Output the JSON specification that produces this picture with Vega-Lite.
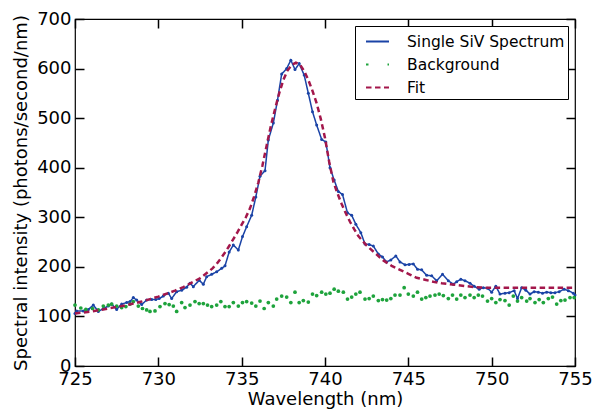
{
  "$schema": "https://vega.github.io/schema/vega-lite/v6.json",
  "width": 500,
  "height": 347,
  "autosize": {"type": "none"},
  "padding": {"left": 75, "top": 19, "right": 30, "bottom": 44},
  "background": "white",
  "config": {
    "font": "DejaVu Sans",
    "view": {"stroke": "black", "strokeWidth": 1.2},
    "axis": {"grid": false, "domain": false, "ticks": true, "tickOpacity": 1, "zindex": 1, "tickColor": "black", "labelColor": "black", "titleColor": "black", "labelFontSize": 18, "titleFontSize": 18, "titleFontWeight": "normal", "labelFont": "DejaVu Sans", "titleFont": "DejaVu Sans", "tickWidth": 1.5, "tickSize": 9, "offset": -9, "labelFlush": false, "labelOverlap": false}
  },
  "data": {"values": [
    {"s":"Single SiV Spectrum","x":725.0,"y":106},{"s":"Single SiV Spectrum","x":725.1,"y":111},{"s":"Single SiV Spectrum","x":725.5,"y":111},{"s":"Single SiV Spectrum","x":725.8,"y":114},{"s":"Single SiV Spectrum","x":726.1,"y":123},{"s":"Single SiV Spectrum","x":726.4,"y":110},{"s":"Single SiV Spectrum","x":726.7,"y":116},{"s":"Single SiV Spectrum","x":727.0,"y":121},{"s":"Single SiV Spectrum","x":727.2,"y":125},{"s":"Single SiV Spectrum","x":727.5,"y":114},{"s":"Single SiV Spectrum","x":727.8,"y":125},{"s":"Single SiV Spectrum","x":728.1,"y":128},{"s":"Single SiV Spectrum","x":728.3,"y":130},{"s":"Single SiV Spectrum","x":728.5,"y":138},{"s":"Single SiV Spectrum","x":728.7,"y":133},{"s":"Single SiV Spectrum","x":729.0,"y":124},{"s":"Single SiV Spectrum","x":729.3,"y":133},{"s":"Single SiV Spectrum","x":729.6,"y":134},{"s":"Single SiV Spectrum","x":729.85,"y":134},{"s":"Single SiV Spectrum","x":730.05,"y":136},{"s":"Single SiV Spectrum","x":730.3,"y":141},{"s":"Single SiV Spectrum","x":730.6,"y":147},{"s":"Single SiV Spectrum","x":730.8,"y":136},{"s":"Single SiV Spectrum","x":731.1,"y":150},{"s":"Single SiV Spectrum","x":731.4,"y":153},{"s":"Single SiV Spectrum","x":731.7,"y":159},{"s":"Single SiV Spectrum","x":731.9,"y":167},{"s":"Single SiV Spectrum","x":732.1,"y":160},{"s":"Single SiV Spectrum","x":732.45,"y":173},{"s":"Single SiV Spectrum","x":732.7,"y":165},{"s":"Single SiV Spectrum","x":732.9,"y":180},{"s":"Single SiV Spectrum","x":733.2,"y":185},{"s":"Single SiV Spectrum","x":733.5,"y":190},{"s":"Single SiV Spectrum","x":733.8,"y":197},{"s":"Single SiV Spectrum","x":734.0,"y":202},{"s":"Single SiV Spectrum","x":734.25,"y":230},{"s":"Single SiV Spectrum","x":734.5,"y":244},{"s":"Single SiV Spectrum","x":734.8,"y":234},{"s":"Single SiV Spectrum","x":735.05,"y":261},{"s":"Single SiV Spectrum","x":735.3,"y":281},{"s":"Single SiV Spectrum","x":735.6,"y":304},{"s":"Single SiV Spectrum","x":735.85,"y":341},{"s":"Single SiV Spectrum","x":736.1,"y":383},{"s":"Single SiV Spectrum","x":736.4,"y":394},{"s":"Single SiV Spectrum","x":736.6,"y":456},{"s":"Single SiV Spectrum","x":736.9,"y":490},{"s":"Single SiV Spectrum","x":737.15,"y":536},{"s":"Single SiV Spectrum","x":737.4,"y":589},{"s":"Single SiV Spectrum","x":737.7,"y":600},{"s":"Single SiV Spectrum","x":737.95,"y":617},{"s":"Single SiV Spectrum","x":738.2,"y":598},{"s":"Single SiV Spectrum","x":738.45,"y":610},{"s":"Single SiV Spectrum","x":738.75,"y":587},{"s":"Single SiV Spectrum","x":739.0,"y":550},{"s":"Single SiV Spectrum","x":739.25,"y":513},{"s":"Single SiV Spectrum","x":739.5,"y":486},{"s":"Single SiV Spectrum","x":739.8,"y":457},{"s":"Single SiV Spectrum","x":740.05,"y":452},{"s":"Single SiV Spectrum","x":740.3,"y":400},{"s":"Single SiV Spectrum","x":740.55,"y":375},{"s":"Single SiV Spectrum","x":740.8,"y":352},{"s":"Single SiV Spectrum","x":741.05,"y":346},{"s":"Single SiV Spectrum","x":741.35,"y":309},{"s":"Single SiV Spectrum","x":741.6,"y":304},{"s":"Single SiV Spectrum","x":741.85,"y":286},{"s":"Single SiV Spectrum","x":742.15,"y":269},{"s":"Single SiV Spectrum","x":742.4,"y":246},{"s":"Single SiV Spectrum","x":742.65,"y":245},{"s":"Single SiV Spectrum","x":742.9,"y":242},{"s":"Single SiV Spectrum","x":743.2,"y":226},{"s":"Single SiV Spectrum","x":743.45,"y":220},{"s":"Single SiV Spectrum","x":743.7,"y":210},{"s":"Single SiV Spectrum","x":743.95,"y":214},{"s":"Single SiV Spectrum","x":744.25,"y":222},{"s":"Single SiV Spectrum","x":744.5,"y":210},{"s":"Single SiV Spectrum","x":744.8,"y":204},{"s":"Single SiV Spectrum","x":745.05,"y":205},{"s":"Single SiV Spectrum","x":745.3,"y":206},{"s":"Single SiV Spectrum","x":745.55,"y":195},{"s":"Single SiV Spectrum","x":745.8,"y":194},{"s":"Single SiV Spectrum","x":746.1,"y":183},{"s":"Single SiV Spectrum","x":746.4,"y":182},{"s":"Single SiV Spectrum","x":746.7,"y":172},{"s":"Single SiV Spectrum","x":747.05,"y":185},{"s":"Single SiV Spectrum","x":747.4,"y":172},{"s":"Single SiV Spectrum","x":747.7,"y":165},{"s":"Single SiV Spectrum","x":747.9,"y":170},{"s":"Single SiV Spectrum","x":748.15,"y":175},{"s":"Single SiV Spectrum","x":748.4,"y":172},{"s":"Single SiV Spectrum","x":748.7,"y":167},{"s":"Single SiV Spectrum","x":748.95,"y":161},{"s":"Single SiV Spectrum","x":749.25,"y":155},{"s":"Single SiV Spectrum","x":749.5,"y":158},{"s":"Single SiV Spectrum","x":749.75,"y":157},{"s":"Single SiV Spectrum","x":750.0,"y":149},{"s":"Single SiV Spectrum","x":750.25,"y":161},{"s":"Single SiV Spectrum","x":750.5,"y":145},{"s":"Single SiV Spectrum","x":750.8,"y":147},{"s":"Single SiV Spectrum","x":751.05,"y":148},{"s":"Single SiV Spectrum","x":751.35,"y":152},{"s":"Single SiV Spectrum","x":751.55,"y":136},{"s":"Single SiV Spectrum","x":751.8,"y":158},{"s":"Single SiV Spectrum","x":752.05,"y":153},{"s":"Single SiV Spectrum","x":752.3,"y":145},{"s":"Single SiV Spectrum","x":752.55,"y":150},{"s":"Single SiV Spectrum","x":752.8,"y":149},{"s":"Single SiV Spectrum","x":753.05,"y":147},{"s":"Single SiV Spectrum","x":753.3,"y":149},{"s":"Single SiV Spectrum","x":753.55,"y":148},{"s":"Single SiV Spectrum","x":753.8,"y":148},{"s":"Single SiV Spectrum","x":754.05,"y":150},{"s":"Single SiV Spectrum","x":754.35,"y":155},{"s":"Single SiV Spectrum","x":754.6,"y":152},{"s":"Single SiV Spectrum","x":754.9,"y":147},{"s":"Single SiV Spectrum","x":755.0,"y":143},
    {"s":"Background","x":725.0,"y":123},{"s":"Background","x":725.35,"y":117},{"s":"Background","x":725.65,"y":114},{"s":"Background","x":726.05,"y":116},{"s":"Background","x":726.4,"y":113},{"s":"Background","x":726.7,"y":121},{"s":"Background","x":727.0,"y":123},{"s":"Background","x":727.2,"y":125},{"s":"Background","x":727.5,"y":121},{"s":"Background","x":727.8,"y":118},{"s":"Background","x":728.05,"y":120},{"s":"Background","x":728.3,"y":125},{"s":"Background","x":728.5,"y":130},{"s":"Background","x":728.8,"y":121},{"s":"Background","x":729.05,"y":116},{"s":"Background","x":729.3,"y":113},{"s":"Background","x":729.5,"y":110},{"s":"Background","x":729.8,"y":111},{"s":"Background","x":730.1,"y":120},{"s":"Background","x":730.4,"y":126},{"s":"Background","x":730.65,"y":124},{"s":"Background","x":730.9,"y":121},{"s":"Background","x":731.1,"y":110},{"s":"Background","x":731.4,"y":128},{"s":"Background","x":731.6,"y":118},{"s":"Background","x":731.9,"y":123},{"s":"Background","x":732.2,"y":130},{"s":"Background","x":732.45,"y":126},{"s":"Background","x":732.7,"y":126},{"s":"Background","x":732.95,"y":123},{"s":"Background","x":733.2,"y":120},{"s":"Background","x":733.5,"y":123},{"s":"Background","x":733.75,"y":130},{"s":"Background","x":734.0,"y":120},{"s":"Background","x":734.25,"y":120},{"s":"Background","x":734.5,"y":128},{"s":"Background","x":734.8,"y":121},{"s":"Background","x":735.05,"y":128},{"s":"Background","x":735.3,"y":130},{"s":"Background","x":735.6,"y":127},{"s":"Background","x":735.85,"y":121},{"s":"Background","x":736.1,"y":131},{"s":"Background","x":736.35,"y":116},{"s":"Background","x":736.6,"y":128},{"s":"Background","x":736.9,"y":121},{"s":"Background","x":737.1,"y":135},{"s":"Background","x":737.4,"y":141},{"s":"Background","x":737.7,"y":139},{"s":"Background","x":737.95,"y":128},{"s":"Background","x":738.2,"y":149},{"s":"Background","x":738.45,"y":128},{"s":"Background","x":738.7,"y":132},{"s":"Background","x":739.0,"y":129},{"s":"Background","x":739.25,"y":145},{"s":"Background","x":739.5,"y":142},{"s":"Background","x":739.8,"y":149},{"s":"Background","x":740.05,"y":145},{"s":"Background","x":740.3,"y":147},{"s":"Background","x":740.55,"y":155},{"s":"Background","x":740.8,"y":151},{"s":"Background","x":741.1,"y":149},{"s":"Background","x":741.35,"y":135},{"s":"Background","x":741.6,"y":139},{"s":"Background","x":741.85,"y":145},{"s":"Background","x":742.1,"y":149},{"s":"Background","x":742.4,"y":135},{"s":"Background","x":742.65,"y":136},{"s":"Background","x":742.9,"y":141},{"s":"Background","x":743.2,"y":132},{"s":"Background","x":743.45,"y":134},{"s":"Background","x":743.7,"y":133},{"s":"Background","x":743.95,"y":136},{"s":"Background","x":744.2,"y":143},{"s":"Background","x":744.5,"y":143},{"s":"Background","x":744.75,"y":158},{"s":"Background","x":745.0,"y":145},{"s":"Background","x":745.3,"y":141},{"s":"Background","x":745.55,"y":149},{"s":"Background","x":745.8,"y":135},{"s":"Background","x":746.05,"y":138},{"s":"Background","x":746.3,"y":141},{"s":"Background","x":746.6,"y":143},{"s":"Background","x":746.85,"y":145},{"s":"Background","x":747.1,"y":142},{"s":"Background","x":747.4,"y":136},{"s":"Background","x":747.65,"y":143},{"s":"Background","x":747.9,"y":135},{"s":"Background","x":748.15,"y":143},{"s":"Background","x":748.4,"y":138},{"s":"Background","x":748.7,"y":143},{"s":"Background","x":748.95,"y":138},{"s":"Background","x":749.2,"y":143},{"s":"Background","x":749.45,"y":141},{"s":"Background","x":749.75,"y":131},{"s":"Background","x":750.0,"y":136},{"s":"Background","x":750.25,"y":128},{"s":"Background","x":750.5,"y":134},{"s":"Background","x":750.8,"y":132},{"s":"Background","x":751.05,"y":123},{"s":"Background","x":751.3,"y":141},{"s":"Background","x":751.55,"y":131},{"s":"Background","x":751.8,"y":138},{"s":"Background","x":752.1,"y":131},{"s":"Background","x":752.3,"y":136},{"s":"Background","x":752.6,"y":128},{"s":"Background","x":752.85,"y":134},{"s":"Background","x":753.1,"y":128},{"s":"Background","x":753.4,"y":136},{"s":"Background","x":753.65,"y":139},{"s":"Background","x":753.9,"y":125},{"s":"Background","x":754.15,"y":132},{"s":"Background","x":754.4,"y":133},{"s":"Background","x":754.7,"y":138},{"s":"Background","x":754.95,"y":138},
    {"s":"Fit","x":725.0,"y":106},{"s":"Fit","x":725.5,"y":108},{"s":"Fit","x":726.0,"y":110},{"s":"Fit","x":726.5,"y":113},{"s":"Fit","x":727.0,"y":116},{"s":"Fit","x":727.5,"y":119},{"s":"Fit","x":728.0,"y":122},{"s":"Fit","x":728.5,"y":126},{"s":"Fit","x":729.0,"y":130},{"s":"Fit","x":729.5,"y":135},{"s":"Fit","x":730.0,"y":140},{"s":"Fit","x":730.5,"y":146},{"s":"Fit","x":731.0,"y":152},{"s":"Fit","x":731.5,"y":159},{"s":"Fit","x":732.0,"y":168},{"s":"Fit","x":732.5,"y":177},{"s":"Fit","x":733.0,"y":190},{"s":"Fit","x":733.25,"y":197},{"s":"Fit","x":733.5,"y":206},{"s":"Fit","x":733.75,"y":217},{"s":"Fit","x":734.0,"y":229},{"s":"Fit","x":734.25,"y":242},{"s":"Fit","x":734.5,"y":256},{"s":"Fit","x":734.75,"y":270},{"s":"Fit","x":735.0,"y":285},{"s":"Fit","x":735.25,"y":300},{"s":"Fit","x":735.5,"y":318},{"s":"Fit","x":735.75,"y":342},{"s":"Fit","x":736.0,"y":370},{"s":"Fit","x":736.25,"y":405},{"s":"Fit","x":736.5,"y":445},{"s":"Fit","x":736.75,"y":484},{"s":"Fit","x":737.0,"y":518},{"s":"Fit","x":737.25,"y":550},{"s":"Fit","x":737.5,"y":577},{"s":"Fit","x":737.75,"y":596},{"s":"Fit","x":738.0,"y":607},{"s":"Fit","x":738.25,"y":612},{"s":"Fit","x":738.5,"y":608},{"s":"Fit","x":738.75,"y":595},{"s":"Fit","x":739.0,"y":577},{"s":"Fit","x":739.25,"y":555},{"s":"Fit","x":739.5,"y":530},{"s":"Fit","x":739.75,"y":498},{"s":"Fit","x":740.0,"y":460},{"s":"Fit","x":740.25,"y":412},{"s":"Fit","x":740.5,"y":372},{"s":"Fit","x":740.75,"y":348},{"s":"Fit","x":741.0,"y":327},{"s":"Fit","x":741.25,"y":308},{"s":"Fit","x":741.5,"y":291},{"s":"Fit","x":741.75,"y":276},{"s":"Fit","x":742.0,"y":262},{"s":"Fit","x":742.5,"y":243},{"s":"Fit","x":743.0,"y":228},{"s":"Fit","x":743.5,"y":213},{"s":"Fit","x":744.0,"y":202},{"s":"Fit","x":744.5,"y":194},{"s":"Fit","x":745.0,"y":186},{"s":"Fit","x":745.5,"y":178},{"s":"Fit","x":746.0,"y":174},{"s":"Fit","x":746.5,"y":170},{"s":"Fit","x":747.0,"y":167},{"s":"Fit","x":747.5,"y":165},{"s":"Fit","x":748.0,"y":163},{"s":"Fit","x":748.5,"y":161},{"s":"Fit","x":749.0,"y":159},{"s":"Fit","x":749.5,"y":158},{"s":"Fit","x":750.0,"y":158},{"s":"Fit","x":751.0,"y":158},{"s":"Fit","x":752.0,"y":158},{"s":"Fit","x":753.0,"y":158},{"s":"Fit","x":754.0,"y":158},{"s":"Fit","x":755.0,"y":158}
  ]},
  "encoding": {
    "color": {"field": "s", "type": "nominal", "scale": {"domain": ["Single SiV Spectrum", "Background", "Fit"], "range": ["#1a43a6", "#1ea33c", "#a3174b"]},
      "legend": {"title": null, "orient": "top-right", "offset": 7, "strokeColor": "black", "fillColor": "white", "padding": 3, "cornerRadius": 0, "labelFontSize": 15.5, "labelFont": "DejaVu Sans", "labelColor": "black", "labelLimit": 300, "symbolType": "stroke", "symbolSize": 529, "symbolStrokeWidth": 2, "symbolOpacity": 1, "symbolOffset": 7, "labelOffset": 17, "rowPadding": 2}},
    "strokeDash": {"field": "s", "type": "nominal", "scale": {"domain": ["Single SiV Spectrum", "Background", "Fit"], "range": [[1, 0], [2.5, 19], [5.5, 3.5]]}, "legend": {"title": null}}
  },
  "layer": [
    {
      "transform": [{"filter": "datum.s === 'Single SiV Spectrum'"}],
      "mark": {"type": "line", "strokeWidth": 1.5, "point": {"filled": true, "size": 9, "opacity": 1}},
      "encoding": {
        "x": {"field": "x", "type": "quantitative", "scale": {"domain": [725, 755], "nice": false, "zero": false}, "axis": {"orient": "bottom", "values": [725, 730, 735, 740, 745, 750, 755], "title": "Wavelength (nm)", "labelPadding": 4, "titlePadding": 2, "format": "d", "ticks": true, "tickSize": 9}},
        "y": {"field": "y", "type": "quantitative", "scale": {"domain": [0, 700], "nice": false}, "axis": {"orient": "left", "values": [0, 100, 200, 300, 400, 500, 600, 700], "title": "Spectral intensity (photons/second/nm)", "labelPadding": 4, "titlePadding": 6, "ticks": true, "tickSize": 9}}
      }
    },
    {
      "transform": [{"filter": "datum.s === 'Background'"}],
      "mark": {"type": "point", "filled": true, "size": 14, "opacity": 1, "strokeWidth": 0},
      "encoding": {
        "x": {"field": "x", "type": "quantitative", "axis": null},
        "y": {"field": "y", "type": "quantitative", "axis": null}
      }
    },
    {
      "transform": [{"filter": "datum.s === 'Fit'"}],
      "mark": {"type": "line", "strokeWidth": 2.5},
      "encoding": {
        "x": {"field": "x", "type": "quantitative", "axis": {"orient": "top", "values": [725, 730, 735, 740, 745, 750, 755], "labels": false, "title": null, "ticks": true, "tickSize": 9}},
        "y": {"field": "y", "type": "quantitative", "axis": {"orient": "right", "values": [0, 100, 200, 300, 400, 500, 600, 700], "labels": false, "title": null, "ticks": true, "tickSize": 9}}
      }
    }
  ]
}
